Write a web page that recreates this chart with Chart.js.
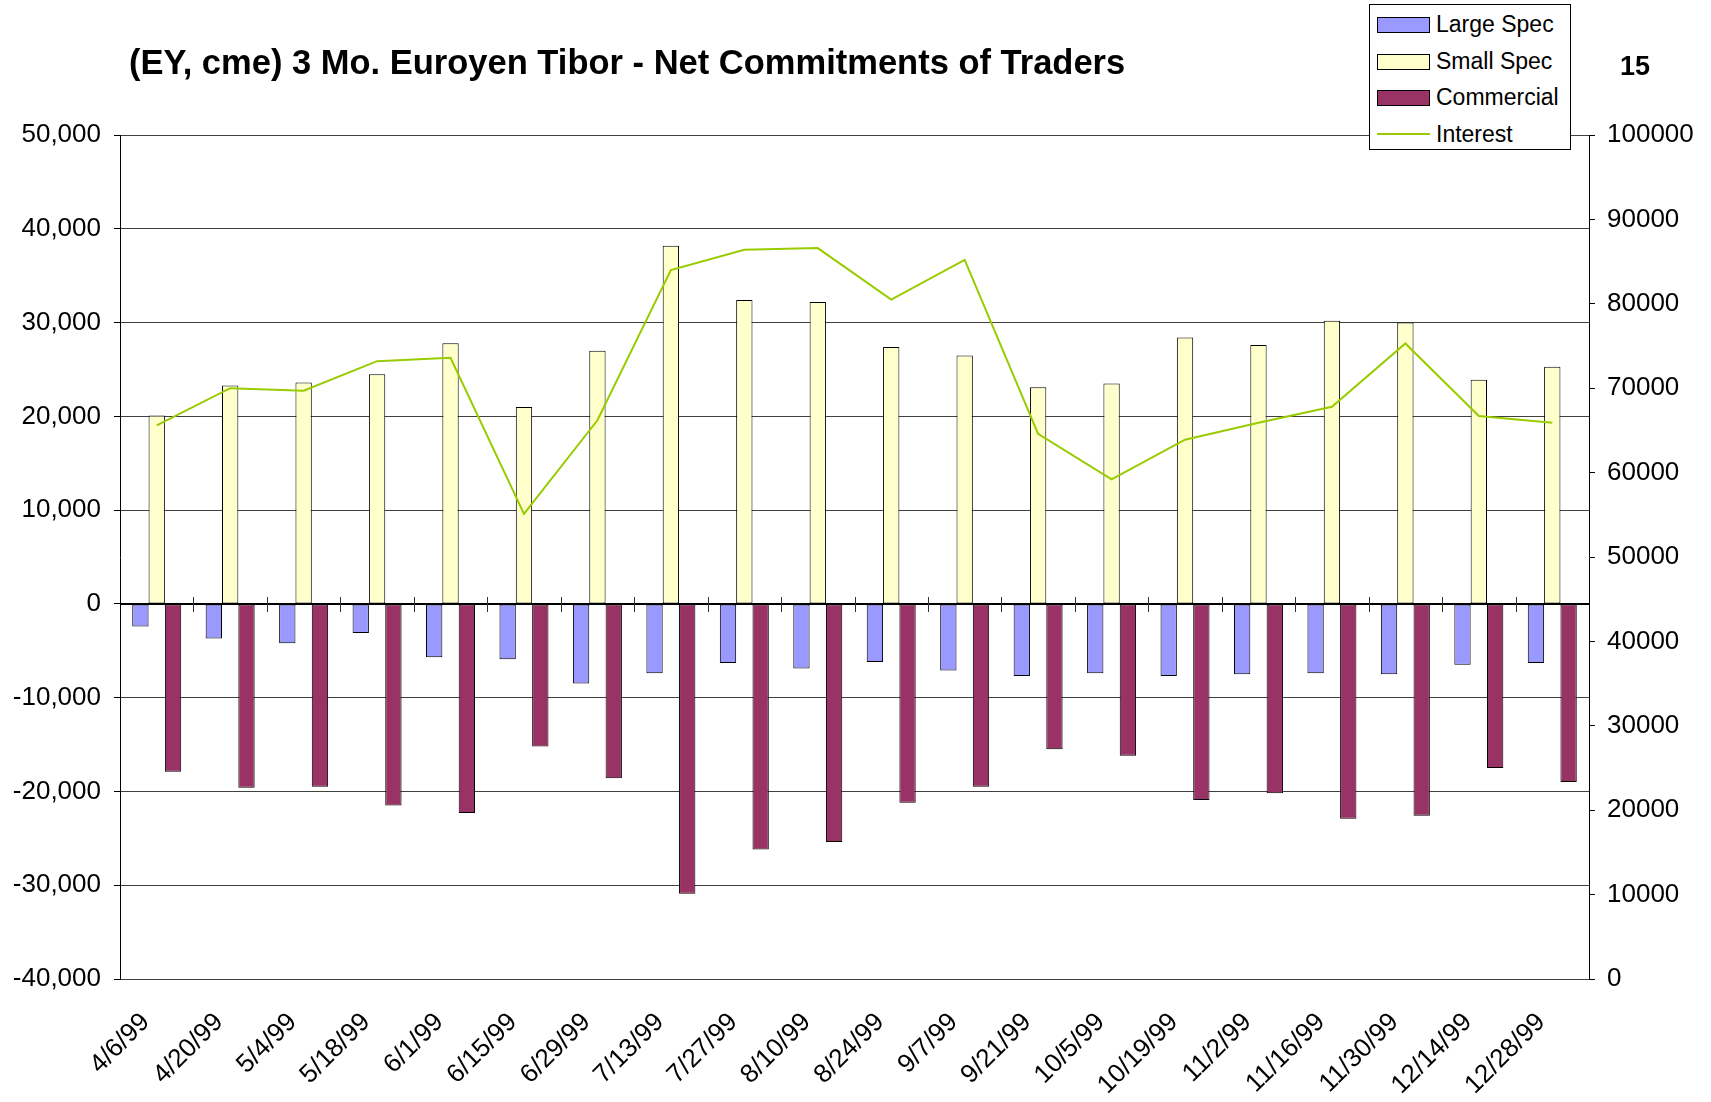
<!DOCTYPE html>
<html><head><meta charset="utf-8">
<script src="https://cdn.jsdelivr.net/npm/chart.js@4.4.1/dist/chart.umd.min.js"></script>
<style>
html,body{margin:0;padding:0;background:#fff;}
#wrap{position:relative;width:1711px;height:1102px;font-family:"Liberation Sans",Arial,sans-serif;color:#000;overflow:hidden;}
#c{position:absolute;left:0;top:0;}
#title{position:absolute;left:129px;top:45px;font-weight:bold;font-size:34.5px;line-height:34px;white-space:nowrap;}
#num{position:absolute;left:1620px;top:53px;font-weight:bold;font-size:27px;line-height:27px;}
#legend{position:absolute;left:1369px;top:4px;width:200px;height:144px;border:1px solid #000;background:#fff;}
.item{position:absolute;left:0;width:200px;height:30px;}
.sw{position:absolute;left:7px;top:7px;width:51px;height:14px;border:1px solid #000;}
.ln{position:absolute;left:7px;top:13px;width:53px;height:2px;background:#99CC00;}
.tx{position:absolute;left:66px;top:0;font-size:23px;line-height:28px;white-space:nowrap;}
</style>
</head><body>
<div id="wrap">
<canvas id="c" width="1711" height="1102"></canvas>
<div id="title">(EY, cme) 3 Mo. Euroyen Tibor - Net Commitments of Traders</div>
<div id="num">15</div>
<div id="legend">
 <div class="item" style="top:5px"><div class="sw" style="background:#9999FF"></div><div class="tx">Large Spec</div></div>
 <div class="item" style="top:42px"><div class="sw" style="background:#FFFFCC"></div><div class="tx">Small Spec</div></div>
 <div class="item" style="top:78px"><div class="sw" style="background:#993366"></div><div class="tx">Commercial</div></div>
 <div class="item" style="top:115px"><div class="ln"></div><div class="tx">Interest</div></div>
</div>
</div>
<script>
const categories = ['4/6/99','4/20/99','5/4/99','5/18/99','6/1/99','6/15/99','6/29/99','7/13/99','7/27/99','8/10/99','8/24/99','9/7/99','9/21/99','10/5/99','10/19/99','11/2/99','11/16/99','11/30/99','12/14/99','12/28/99'];
const largeSpec = [-2400,-3700,-4200,-3100,-5700,-5900,-8500,-7400,-6300,-6900,-6200,-7100,-7700,-7400,-7700,-7500,-7400,-7500,-6500,-6300];
const smallSpec = [20100,23300,23600,24500,27800,21000,27000,38200,32400,32200,27400,26500,23100,23500,28400,27600,30200,30000,23900,25300];
const commercial = [-17900,-19600,-19500,-21500,-22300,-15200,-18600,-30900,-26200,-25400,-21200,-19500,-15500,-16200,-20900,-20200,-22900,-22600,-17500,-19000];
const interest = [65600,70000,69700,73200,73600,55100,66200,84000,86400,86600,80500,85200,64600,59200,63900,65900,67800,75300,66700,65900];
const leftTicks = {min:-40000, max:50000, step:10000};
const rightTicks = {min:0, max:100000, step:10000};

const zeroLine = {
  id:'zeroLine',
  afterDatasetsDraw(chart){
    const {ctx, scales:{x,y}} = chart;
    const y0 = Math.round(y.getPixelForValue(0));
    ctx.save();
    ctx.strokeStyle = '#000';
    ctx.lineWidth = 2;
    ctx.beginPath(); ctx.moveTo(x.left, y0); ctx.lineTo(x.right, y0); ctx.stroke();
    ctx.lineWidth = 1;
    ctx.strokeStyle = '#333';
    for (let i = 1; i < x.ticks.length; i++) {
      const px = Math.round((x.getPixelForTick(i-1) + x.getPixelForTick(i)) / 2) + 0.5;
      ctx.beginPath(); ctx.moveTo(px, y0 - 7); ctx.lineTo(px, y0 + 8); ctx.stroke();
    }
    ctx.restore();
  }
};

const font = {family:'"Liberation Sans", Arial, sans-serif', size:26};
new Chart(document.getElementById('c'), {
  data: {
    labels: categories,
    datasets: [
      {type:'bar', label:'Large Spec', data:largeSpec, backgroundColor:'#9999FF', borderColor:'#000', borderWidth:1, borderSkipped:false, order:1, yAxisID:'y'},
      {type:'bar', label:'Small Spec', data:smallSpec, backgroundColor:'#FFFFCC', borderColor:'#000', borderWidth:1, borderSkipped:false, order:1, yAxisID:'y'},
      {type:'bar', label:'Commercial', data:commercial, backgroundColor:'#993366', borderColor:'#000', borderWidth:1, borderSkipped:false, order:1, yAxisID:'y'},
      {type:'line', label:'Interest', data:interest, borderColor:'#99CC00', borderWidth:2, pointRadius:0, tension:0, fill:false, order:0, yAxisID:'y2'}
    ]
  },
  options: {
    responsive:false,
    animation:false,
    events:[],
    layout:{padding:{top:135, left:0, right:0, bottom:0}},
    plugins:{legend:{display:false}, title:{display:false}, tooltip:{enabled:false}},
    datasets:{bar:{categoryPercentage:0.667, barPercentage:1.0}},
    scales:{
      x:{
        grid:{display:false, drawTicks:false},
        border:{display:false},
        ticks:{font:font, color:'#000', maxRotation:45, minRotation:45, autoSkip:false, padding:28, labelOffset:-11},
        afterFit(s){ s.height = 123; }
      },
      y:{
        position:'left',
        min:leftTicks.min, max:leftTicks.max,
        ticks:{stepSize:leftTicks.step, font:font, color:'#000', padding:13, callback:v=>v.toLocaleString('en-US')},
        grid:{color:'#404040', lineWidth:1, drawTicks:true, tickLength:6, tickColor:'#000'},
        border:{color:'#000', width:1},
        afterFit(s){ s.width = 120; }
      },
      y2:{
        position:'right',
        min:rightTicks.min, max:rightTicks.max,
        ticks:{stepSize:rightTicks.step, font:font, color:'#000', padding:12, callback:v=>String(v)},
        grid:{drawOnChartArea:false, drawTicks:true, tickLength:6, tickColor:'#000'},
        border:{color:'#000', width:1},
        afterFit(s){ s.width = 122; }
      }
    }
  },
  plugins:[zeroLine]
});
</script>
</body></html>
